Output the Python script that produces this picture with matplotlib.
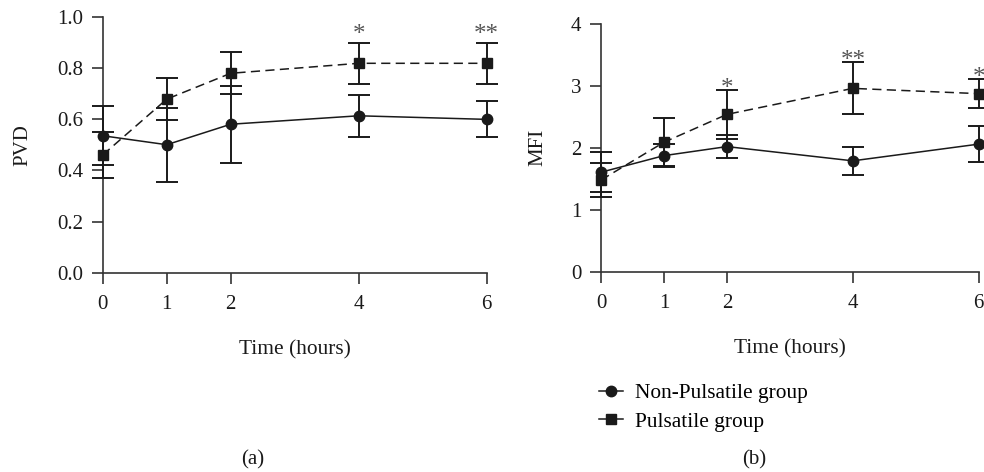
import matplotlib
matplotlib.use("Agg")
import matplotlib.pyplot as plt
from matplotlib.lines import Line2D

plt.rcParams['font.family'] = ['Liberation Serif', 'DejaVu Serif']

time = [0, 1, 2, 4, 6]
time_ticks = ["0", "1", "2", "4", "6"]

# Panel (a) PVD
pvd_non = [0.535, 0.50, 0.58, 0.613, 0.599]
pvd_non_err = [0.115, 0.145, 0.15, 0.083, 0.07]
pvd_pul = [0.46, 0.678, 0.779, 0.818, 0.818]
pvd_pul_err = [0.09, 0.082, 0.082, 0.08, 0.08]
pvd_stars = {4: "*", 6: "**"}
pvd_ticks = [0.0, 0.2, 0.4, 0.6, 0.8, 1.0]

# Panel (b) MFI
mfi_non = [1.606, 1.874, 2.02, 1.79, 2.06]
mfi_non_err = [0.32, 0.19, 0.19, 0.23, 0.29]
mfi_pul = [1.48, 2.09, 2.54, 2.96, 2.875]
mfi_pul_err = [0.28, 0.39, 0.39, 0.42, 0.23]
mfi_stars = {2: "*", 4: "**", 6: "*"}
mfi_ticks = [0, 1, 2, 3, 4]

C = "#1a1a1a"
STAR = "#555555"
FS = 15

fig = plt.figure(figsize=(9.84, 4.72), dpi=100)
ax1 = fig.add_axes([0.1044, 0.4222, 0.3902, 0.5424])
ax2 = fig.add_axes([0.6108, 0.4244, 0.3838, 0.5248])


def draw(ax, non, non_err, pul, pul_err, stars, yticks, ylim, ylabel, star_off):
    r1 = ax.errorbar(time, non, yerr=non_err, color=C, lw=1.1, marker='o', ms=7.5,
                     capsize=8, elinewidth=1.4, capthick=1.4, ls='-', zorder=3)
    r2 = ax.errorbar(time, pul, yerr=pul_err, color=C, lw=1.1, marker='s', ms=7.5,
                     capsize=8, elinewidth=1.4, capthick=1.4, ls=(0, (6, 3.5)), zorder=4)
    for r in (r1, r2):
        for child in r.get_children():
            child.set_clip_on(False)
    for i, t in enumerate(time):
        if t in stars:
            ax.text(t, pul[i] + pul_err[i] + star_off, stars[t], ha='center',
                    va='bottom', color=STAR, fontsize=18, clip_on=False)
    ax.set_xlim(0, 6)
    ax.set_ylim(*ylim)
    ax.set_xticks(time)
    ax.set_xticklabels(time_ticks)
    ax.set_yticks(yticks)
    for s in ['top', 'right']:
        ax.spines[s].set_visible(False)
    for s in ['left', 'bottom']:
        ax.spines[s].set_linewidth(1.2)
        ax.spines[s].set_color('#333333')
    ax.tick_params(direction='out', length=8, width=1.2, color='#333333',
                   labelsize=FS, labelcolor=C, pad=6)
    ax.tick_params(axis='x', pad=8)
    ax.set_ylabel(ylabel, fontsize=FS, color=C)
    ax.set_xlabel("Time (hours)", fontsize=FS + 0.4, color=C, labelpad=19)


draw(ax1, pvd_non, pvd_non_err, pvd_pul, pvd_pul_err, pvd_stars, pvd_ticks,
     (0, 1.0), "PVD", -0.013)
ax1.set_yticklabels([f"{v:.1f}" for v in pvd_ticks])
ax1.yaxis.set_label_coords(-0.182, 0.5)

draw(ax2, mfi_non, mfi_non_err, mfi_pul, mfi_pul_err, mfi_stars, mfi_ticks,
     (0, 4), "MFI", -0.15)
ax2.yaxis.set_label_coords(-0.141, 0.5)

handles = [
    Line2D([0], [0], color=C, lw=1.1, marker='o', ms=7.5),
    Line2D([0], [0], color=C, lw=1.1, marker='s', ms=7.5),
]
fig.legend(handles, ["Non-Pulsatile group", "Pulsatile group"],
           loc='upper left', bbox_to_anchor=(0.609, 0.188), frameon=False,
           fontsize=FS + 0.4, handlelength=1.13, handletextpad=0.56, labelspacing=0.4,
           borderaxespad=0, borderpad=0)

fig.text(253 / 984, 1 - 460 / 472, "(a)", ha='center', va='center', fontsize=FS, color=C)
fig.text(754 / 984, 1 - 460 / 472, "(b)", ha='center', va='center', fontsize=FS, color=C)

fig.savefig("out.png", dpi=100)
